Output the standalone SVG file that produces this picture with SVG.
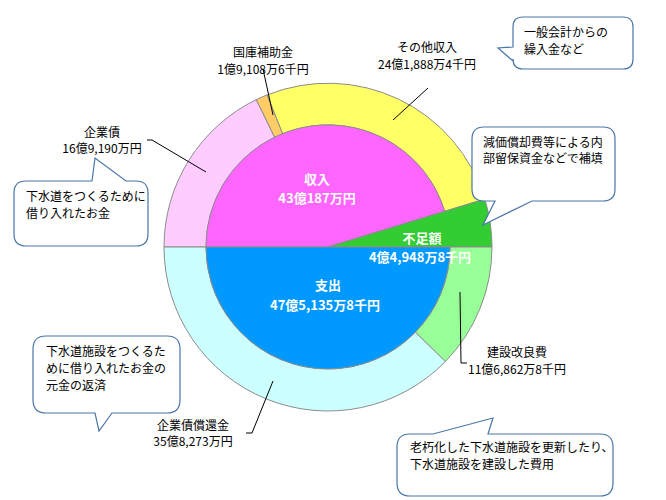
<svg xmlns="http://www.w3.org/2000/svg" width="666" height="500" viewBox="0 0 666 500">
<style>
.s{stroke:#8c8c8c;stroke-width:1}
.t{font-family:"Noto Sans CJK JP","Liberation Sans",sans-serif;font-size:12px;fill:#000;text-anchor:middle}
.w{font-family:"Noto Sans CJK JP","Liberation Sans",sans-serif;font-size:13px;fill:#fff;font-weight:bold;text-anchor:middle}
.c{font-family:"Noto Sans CJK JP","Liberation Sans",sans-serif;font-size:12px;fill:#000}
.b{fill:#fff;stroke:#4a76a8;stroke-width:1.2}
.l{stroke:#000;stroke-width:1;fill:none}
</style>
<rect width="666" height="500" fill="#fff"/>
<g id="pie">
<path id="kigyosai" class="s" fill="#ffccff" d="M164,247 A164,164 0 0 1 256.3,99.6 L274.7,137.3 A122,122 0 0 0 206,247 Z"/>
<path id="kokko" class="s" fill="#ffcc66" d="M256.3,99.6 A164,164 0 0 1 267.2,94.9 L282.7,133.7 A122,122 0 0 0 274.7,137.3 Z"/>
<path id="sonota" class="s" fill="#ffff66" d="M267.2,94.9 A164,164 0 0 1 484.8,199.1 L444.7,211.3 A122,122 0 0 0 282.7,133.7 Z"/>
<path id="shunyu" class="s" fill="#ff66ff" d="M206,247 A122,122 0 0 1 444.7,211.3 L328,247 Z"/>
<path id="fusoku" class="s" fill="#33cc33" d="M328,247 L484.8,199.1 A164,164 0 0 1 492,247 Z"/>
<path id="kensetsu" class="s" fill="#99ff99" d="M492,247 A164,164 0 0 1 445.4,361.5 L415.3,332.2 A122,122 0 0 0 450,247 Z"/>
<path id="shokan" class="s" fill="#ccffff" d="M445.4,361.5 A164,164 0 0 1 164,247 L206,247 A122,122 0 0 0 415.3,332.2 Z"/>
<path id="shishutsu" class="s" fill="#0099ff" d="M206,247 L450,247 A122,122 0 0 1 206,247 Z"/>
</g>
<g id="connectors">
<path class="l" d="M147,140 L152,140 L206,172"/>
<path class="l" d="M263,69 L273,115"/>
<path class="l" d="M428,88 L393,120"/>
<path class="l" d="M460,292 L461,363 L467,363"/>
<path class="l" d="M246,433 L252,433 L273,381"/>
</g>
<g id="labels">
<text class="t" x="102" y="137">企業債</text>
<text class="t" x="102" y="153">16億9,190万円</text>
<text class="t" x="263" y="57">国庫補助金</text>
<text class="t" x="263" y="74">1億9,108万6千円</text>
<text class="t" x="427" y="52">その他収入</text>
<text class="t" x="427" y="69">24億1,888万4千円</text>
<text class="t" x="517" y="357">建設改良費</text>
<text class="t" x="517" y="374">11億6,862万8千円</text>
<text class="t" x="193" y="430">企業債償還金</text>
<text class="t" x="193" y="446">35億8,273万円</text>
<text class="w" x="317" y="184">収入</text>
<text class="w" x="317" y="203">43億187万円</text>
<text class="w" x="422" y="243">不足額</text>
<text class="w" x="420" y="262">4億4,948万8千円</text>
<text class="w" x="328" y="290">支出</text>
<text class="w" x="325" y="310">47億5,135万8千円</text>
</g>
<g id="callout1">
<path class="b" d="M523,17 H623 Q633,17 633,27 V59 Q633,69 623,69 H523 Q513,69 513,59 V61 L498,48 L513,47 V27 Q513,17 523,17 Z"/>
<text class="c" x="524" y="37">一般会計からの</text>
<text class="c" x="524" y="54">繰入金など</text>
</g>
<g id="callout2">
<path class="b" d="M484,127 H603 Q615,127 615,139 V189 Q615,201 603,201 H532 L483,225 L495,201 H484 Q472,201 472,189 V139 Q472,127 484,127 Z"/>
<text class="c" x="483" y="147">減価償却費等による内</text>
<text class="c" x="483" y="163">部留保資金などで補填</text>
</g>
<g id="callout3">
<path class="b" d="M26,181 H92 L95,158 L126,181 H136 Q148,181 148,193 V234 Q148,246 136,246 H26 Q14,246 14,234 V193 Q14,181 26,181 Z"/>
<text class="c" x="26" y="201">下水道をつくるために</text>
<text class="c" x="26" y="218">借り入れたお金</text>
</g>
<g id="callout4">
<path class="b" d="M46,336 H167 Q180,336 180,349 V400 Q180,413 167,413 H112 L99,431 L95,413 H46 Q33,413 33,400 V349 Q33,336 46,336 Z"/>
<text class="c" x="46" y="356">下水道施設をつくるた</text>
<text class="c" x="46" y="373">めに借り入れたお金の</text>
<text class="c" x="46" y="390">元金の返済</text>
</g>
<g id="callout5">
<path class="b" d="M410,434 H433 L493,418 L488,434 H600 Q613,434 613,447 V483 Q613,496 600,496 H410 Q397,496 397,483 V447 Q397,434 410,434 Z"/>
<text class="c" x="410" y="452">老朽化した下水道施設を更新したり、</text>
<text class="c" x="410" y="469">下水道施設を建設した費用</text>
</g>
</svg>
